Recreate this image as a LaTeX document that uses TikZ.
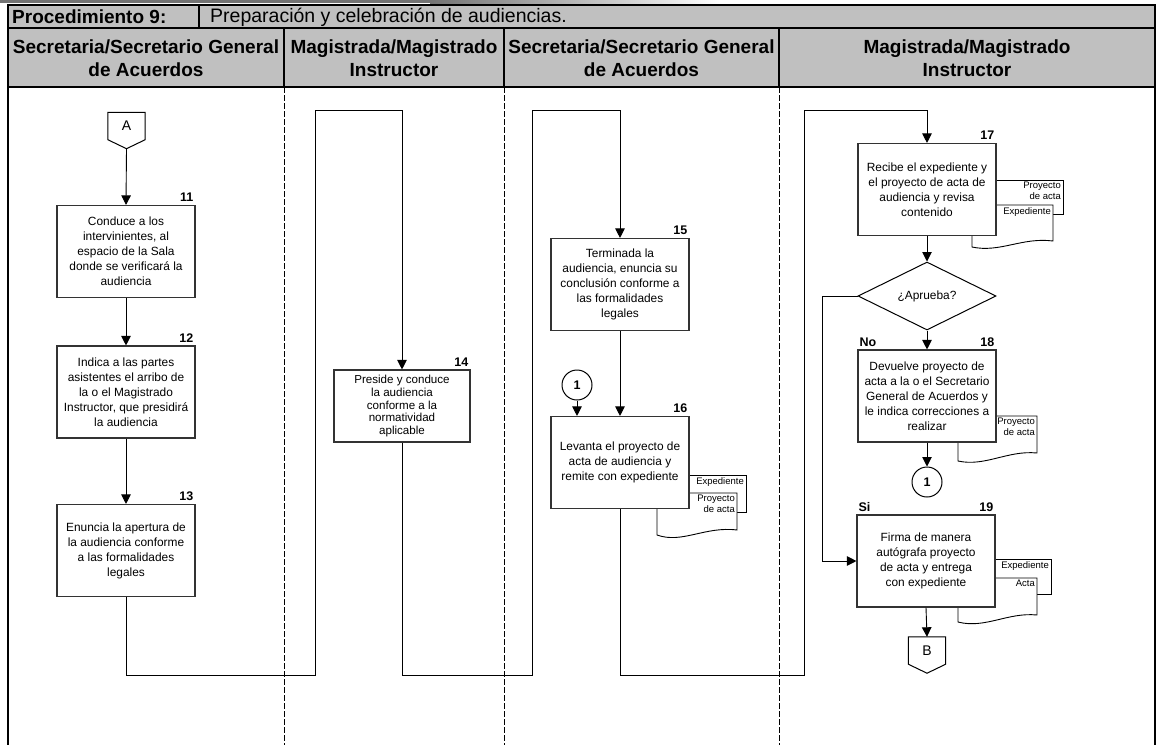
\documentclass[tikz,border=0pt]{standalone}
\usepackage{fontspec}
\setmainfont{Liberation Sans}
\usetikzlibrary{arrows.meta,shapes.geometric,calc}

\definecolor{hdrgray}{HTML}{C0C0C0}

\begin{document}
\begin{tikzpicture}[x=1pt,y=-1pt,
  frame/.style={draw=black, line width=1.2pt},
  lanesep/.style={draw=black, line width=0.8pt, dash pattern=on 6pt off 2pt},
  hdr/.style={font=\bfseries\fontsize{19}{23}\selectfont, align=center, inner sep=0pt},
  proc/.style={draw=black!80, line width=1.1pt, fill=white, minimum width=138pt,
    minimum height=92pt, inner sep=0pt, align=center,
    font=\fontsize{11.9}{15}\selectfont},
  num/.style={font=\bfseries\fontsize{12.5}{14}\selectfont, inner sep=0pt},
  flow/.style={draw=black, line width=0.9pt, -{Triangle[width=9.5pt,length=9.5pt]}},
  docline/.style={draw=black, line width=0.9pt, fill=white},
  doctxt/.style={font=\fontsize{9.5}{10.5}\selectfont, align=right, inner sep=0pt},
  offpage/.style={minimum width=37pt, minimum height=27pt, inner sep=0pt,
    font=\fontsize{14}{16}\selectfont},
  joint/.style={circle, draw=black, line width=1pt, fill=white, minimum size=30pt,
    inner sep=0pt, font=\bfseries\fontsize{12.5}{14}\selectfont},
  decision/.style={diamond, aspect=2, draw=black, line width=1pt, fill=white,
    minimum width=138pt, minimum height=68pt, inner sep=0pt,
    font=\fontsize{11.9}{15}\selectfont}
]
\useasboundingbox (0,0) rectangle (1159,745);

% thin shadow strip along the top edge
\fill[black!55] (0,0) rectangle (430,3);
\shade[left color=black!55, right color=white] (430,0) rectangle (720,3);

% ---------------- header ----------------
\fill[hdrgray] (8,5) rectangle (1155,87);
\draw[frame] (8,5) rectangle (1155,28);
\draw[frame] (199,5) -- (199,28);
\draw[frame] (8,28) rectangle (1155,87);
\foreach \xx in {284,504,779} \draw[frame] (\xx,28) -- (\xx,87);

\node[anchor=west, inner sep=0pt, font=\bfseries\fontsize{19}{23}\selectfont] (proc) at (12,17) {Procedimiento 9:};
\node[anchor=west, inner sep=0pt, font=\fontsize{19.5}{23}\selectfont] (title) at (210,17) {Preparación y celebración de audiencias.};

\node[hdr] (h1) at (146,58)   {Secretaria/Secretario General\\de Acuerdos};
\node[hdr] (h2) at (394,58)   {Magistrada/Magistrado\\Instructor};
\node[hdr] (h3) at (641.5,58) {Secretaria/Secretario General\\de Acuerdos};
\node[hdr] (h4) at (967,58)   {Magistrada/Magistrado\\Instructor};

% ---------------- body frame ----------------
\draw[frame] (8,87) -- (8,745);
\draw[frame] (1155,87) -- (1155,745);
\foreach \xx in {284,504,779} \draw[lanesep] (\xx,87) -- (\xx,745);

% ---------------- lane 1 ----------------
\node[offpage] (A) at (126.5,126) {A};
\draw[draw=black, line width=1pt, fill=white]
  (A.north west) -- (A.north east) -- (A.south east) -- ($(A.south)+(0,9)$)
  -- (A.south west) -- cycle;
\node[offpage] at (A) {A};
\coordinate (Atip) at ($(A.south)+(0,9)$);

\node[proc] (b11) at (126,251.5) {Conduce a los\\intervinientes, al\\espacio de la Sala\\donde se verificará la\\audiencia};
\node[num, anchor=south east] (n11) at ($(b11.north east)+(-2,-3)$) {11};

\node[proc] (b12) at (126,392) {Indica a las partes\\asistentes el arribo de\\la o el Magistrado\\Instructor, que presidirá\\la audiencia};
\node[num, anchor=south east] (n12) at ($(b12.north east)+(-2,-3)$) {12};

\node[proc] (b13) at (126,550.5) {Enuncia la apertura de\\la audiencia conforme\\a las formalidades\\legales};
\node[num, anchor=south east] (n13) at ($(b13.north east)+(-2,-3)$) {13};

\draw[flow] (Atip) -- (b11.north);
\draw[flow] (b11.south) -- (b12.north);
\draw[flow] (b12.south) -- (b13.north);

% ---------------- lane 2 ----------------
\node[proc, minimum width=136pt, minimum height=72pt,
  font=\fontsize{11.6}{12.9}\selectfont] (b14) at (402,406) {Preside y conduce\\la audiencia\\conforme a la\\normatividad\\aplicable};
\node[num, anchor=south east] (n14) at ($(b14.north east)+(-2,-3)$) {14};

\draw[flow] (b13.south) -- (126,675) -- (315,675) -- (315,110) -- (402,110) -- (b14.north);

% ---------------- lane 3 ----------------
\node[proc] (b15) at (620,284.5) {Terminada la\\audiencia, enuncia su\\conclusión conforme a\\las formalidades\\legales};
\node[num, anchor=south east] (n15) at ($(b15.north east)+(-2,-3)$) {15};

\draw[flow] (b14.south) -- (402,675) -- (532,675) -- (532,110) -- (620,110) -- (b15.north);

% documents attached to step 16
\draw[docline] (670,475) -- (746,475) -- (746,512) -- (670,512) -- cycle;
\node[doctxt, anchor=north east] (d16a) at (744,477) {Expediente};
\draw[docline] (657,493) -- (737,493) -- (737,530)
  .. controls (705,526) and (682,544) .. (657,535) -- cycle;
\node[doctxt, anchor=north east] (d16b) at (735,495) {Proyecto\\de acta};

\node[proc] (b16) at (620,462.5) {Levanta el proyecto de\\acta de audiencia y\\remite con expediente};
\node[num, anchor=south east] (n16) at ($(b16.north east)+(-2,-3)$) {16};

\node[joint] (c1) at (577,385) {1};

\draw[flow] (b15.south) -- (b16.north);
\draw[flow] (c1.south) -- (c1.south |- b16.north);

% ---------------- lane 4 ----------------
% documents attached to step 17
\draw[docline] (960,180) -- (1063,180) -- (1063,214) -- (960,214) -- cycle;
\node[doctxt, anchor=north east] (d17a) at (1061,182) {Proyecto\\de acta};
\draw[docline] (972,205) -- (1053,205) -- (1053,241)
  .. controls (1022,237) and (1000,253) .. (972,247) -- cycle;
\node[doctxt, anchor=north east] (d17b) at (1051,207) {Expediente};

\node[proc] (b17) at (927,189.5) {Recibe el expediente y\\el proyecto de acta de\\audiencia y revisa\\contenido};
\node[num, anchor=south east] (n17) at ($(b17.north east)+(-2,-3)$) {17};

\draw[flow] (b16.south) -- (620,675) -- (804,675) -- (804,110) -- (927,110) -- (b17.north);

\node[decision] (dec) at (927,296) {¿Aprueba?};

% document attached to step 18
\draw[docline] (958,416) -- (1037,416) -- (1037,453)
  .. controls (1008,450) and (985,467) .. (958,461) -- cycle;
\node[doctxt, anchor=north east] (d18) at (1035,418) {Proyecto\\de acta};

\node[proc] (b18) at (927,396) {Devuelve proyecto de\\acta a la o el Secretario\\General de Acuerdos y\\le indica correcciones a\\realizar};
\node[num, anchor=south east] (n18) at ($(b18.north east)+(-2,-3)$) {18};
\node[num, anchor=south west] (no) at ($(b18.north west)+(2,-3)$) {No};

\node[joint] (c2) at (927,482) {1};

% documents attached to step 19
\draw[docline] (975,559) -- (1051,559) -- (1051,594) -- (975,594) -- cycle;
\node[doctxt, anchor=north east] (d19a) at (1049,561) {Expediente};
\draw[docline] (958,578) -- (1037,578) -- (1037,615)
  .. controls (1008,612) and (985,629) .. (958,622) -- cycle;
\node[doctxt, anchor=north east] (d19b) at (1035,580) {Acta};

\node[proc] (b19) at (926,561) {Firma de manera\\autógrafa proyecto\\de acta y entrega\\con expediente};
\node[num, anchor=south east] (n19) at ($(b19.north east)+(-2,-3)$) {19};
\node[num, anchor=south west] (si) at ($(b19.north west)+(2,-3)$) {Si};

\node[offpage] (B) at (927,650.5) {B};
\draw[draw=black, line width=1pt, fill=white]
  (B.north west) -- (B.north east) -- (B.south east) -- ($(B.south)+(0,9)$)
  -- (B.south west) -- cycle;
\node[offpage] at (B) {B};

\draw[flow] (b17.south) -- (dec.north);
\draw[flow] (dec.south) -- (b18.north);
\draw[flow] (b18.south) -- (c2.north);
\draw[flow] (dec.west) -- (822,296) -- (822,561) -- (b19.west);
\draw[flow] (b19.south) -- (B.north);

\end{tikzpicture}
\end{document}
